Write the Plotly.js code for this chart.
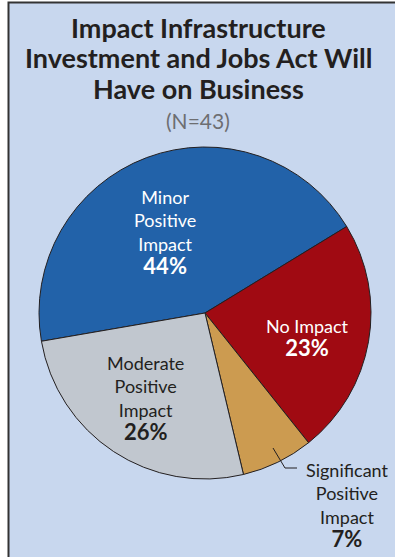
<!DOCTYPE html>
<html>
<head>
<meta charset="utf-8">
<script src="https://cdn.plot.ly/plotly-3.0.1.min.js"></script>
<style>html,body{margin:0;padding:0;background:#fff;}#chart{width:395px;height:557px;}</style>
</head>
<body>
<div id="chart"></div>
<script>
const titleLines = ["Impact Infrastructure", "Investment and Jobs Act Will", "Have on Business"];
const subtitle = "(N=43)";
const categories = ["Minor Positive Impact", "No Impact", "Significant Positive Impact", "Moderate Positive Impact"];
const labelLines = [["Minor", "Positive", "Impact"], ["No Impact"], ["Significant", "Positive", "Impact"], ["Moderate", "Positive", "Impact"]];
const values = [44, 23, 7, 26];
const colors = ["#2262a9", "#a00a12", "#cc9b50", "#c1c7cf"];
const textColors = ["#ffffff", "#ffffff", "#231f20", "#231f20"];

const W = 395, H = 557;
const cx = 205, cy = 313, R = 166;
const FONT = "Lato, 'Open Sans', sans-serif";

const trace = {
  type: "pie",
  labels: categories,
  values: values,
  sort: false,
  direction: "clockwise",
  rotation: -99.8,
  marker: {colors: colors, line: {color: "#231f20", width: 1}},
  textinfo: "none",
  hoverinfo: "label+percent",
  showlegend: false,
  domain: {x: [(cx - R) / W, (cx + R) / W], y: [1 - (cy + R) / H, 1 - (cy - R) / H]}
};

// label block centre [x, y]
const labelPos = [[165, 233], [307, 338], [347, 505], [145, 398]];
const annotations = [];
titleLines.forEach((t, i) => {
  annotations.push({xref: "paper", yref: "paper", x: 198 / W, y: 1 - (27 + 31 * i) / H,
    xanchor: "center", yanchor: "middle", showarrow: false, borderpad: 0, text: "<b>" + t + "</b>",
    font: {family: FONT, size: 27, color: "#231f20"}});
});
annotations.push({xref: "paper", yref: "paper", x: 198 / W, y: 1 - 120 / H,
  xanchor: "center", yanchor: "middle", showarrow: false, borderpad: 0, text: subtitle,
  font: {family: FONT, size: 21, color: "#6d6e71"}});

categories.forEach((c, i) => {
  const p = labelPos[i];
  const txt = labelLines[i].join("<br>") +
    "<br><span style=\"font-size:22px\"><b>" + values[i] + "%</b></span>";
  annotations.push({xref: "paper", yref: "paper", x: p[0] / W, y: 1 - p[1] / H,
    xanchor: "center", yanchor: "middle", align: "center", showarrow: false, borderpad: 0,
    text: txt, font: {family: FONT, size: 18, color: textColors[i]}});
});

const shapes = [
  {type: "rect", xref: "paper", yref: "paper", layer: "below",
   x0: 8.5 / W, x1: 1.05, y0: -0.05, y1: 1 - 2.5 / H,
   fillcolor: "#c8d7ee", line: {color: "#333333", width: 2}},
  {type: "path", xref: "paper", yref: "paper", layer: "above",
   path: `M ${273 / W} ${1 - 448 / H} L ${285 / W} ${1 - 468 / H} L ${297 / W} ${1 - 468 / H}`,
   line: {color: "#231f20", width: 1}}
];

const layout = {
  width: W, height: H,
  margin: {l: 0, r: 0, t: 0, b: 0},
  paper_bgcolor: "#ffffff",
  plot_bgcolor: "rgba(0,0,0,0)",
  annotations: annotations,
  shapes: shapes,
  showlegend: false
};

Plotly.newPlot("chart", [trace], layout, {displayModeBar: false, staticPlot: true});
</script>
</body>
</html>
